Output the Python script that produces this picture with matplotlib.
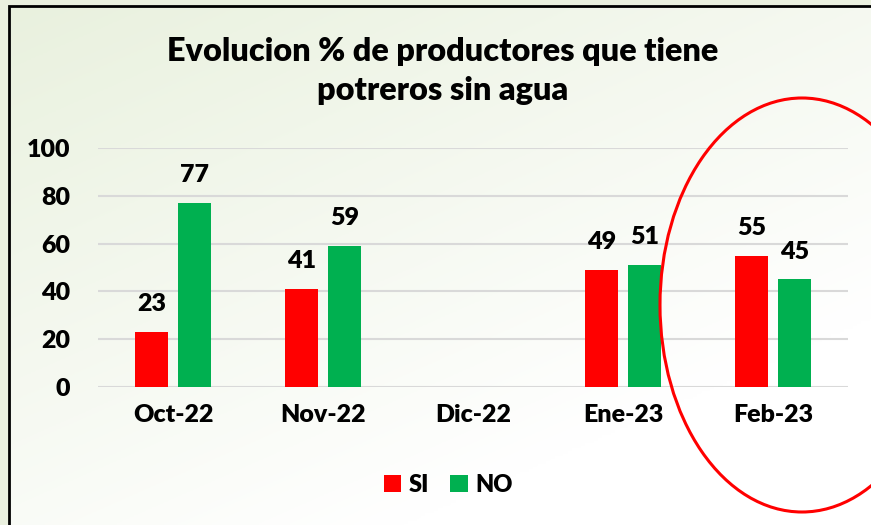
import matplotlib.pyplot as plt
import numpy as np
from matplotlib.patches import Ellipse, Rectangle

categories = ['Oct-22', 'Nov-22', 'Dic-22', 'Ene-23', 'Feb-23']
si = [23, 41, np.nan, 49, 55]
no = [77, 59, np.nan, 51, 45]
yticks = [0, 20, 40, 60, 80, 100]

plt.rcParams['font.family'] = ['Lato', 'DejaVu Sans']
plt.rcParams['font.weight'] = 'heavy'

W, H = 871, 525
fig = plt.figure(figsize=(W / 100, H / 100), dpi=100, facecolor='#eaf0df')

# background gradient inside the chart border (green top-left -> white bottom-right)
bg = fig.add_axes([0, 0, 1, 1], zorder=-10)
gx, gy = np.meshgrid(np.linspace(0, 1, 200), np.linspace(0, 1, 200))
t = np.clip(0.55 * gx + 0.75 * gy, 0, 1)
c0 = np.array([0.914, 0.945, 0.871])
c1 = np.array([1.0, 1.0, 1.0])
img = c0[None, None, :] * (1 - t[..., None]) + c1[None, None, :] * t[..., None]
bg.imshow(img, extent=[9 / W, 1, 0, 1 - 6 / H], origin='upper', aspect='auto')
bg.set_xlim(0, 1)
bg.set_ylim(0, 1)
bg.axis('off')
bg.add_patch(Rectangle((9 / W, -0.05), 1.1, 1 - 6 / H + 0.05, fill=False,
                       edgecolor='black', linewidth=2))

ax = fig.add_axes([98 / W, 1 - 387 / H, 750 / W, (387 - 148) / H])
ax.patch.set_alpha(0)

x = np.arange(len(categories))
w = 0.22
b1 = ax.bar(x - 0.143, si, w, color='#ff0000', label='SI', zorder=3)
b2 = ax.bar(x + 0.143, no, w, color='#00b050', label='NO', zorder=3)
ax.bar_label(b1, labels=['' if np.isnan(v) else f'{v:.0f}' for v in si],
             padding=12, fontsize=18, fontweight='heavy')
ax.bar_label(b2, labels=['' if np.isnan(v) else f'{v:.0f}' for v in no],
             padding=12, fontsize=18, fontweight='heavy')

ax.set_xlim(-0.5, len(categories) - 0.5)
ax.set_ylim(0, 100)
ax.set_yticks(yticks)
ax.set_xticks(x)
ax.set_xticklabels(categories)
ax.tick_params(axis='both', length=0, labelsize=18)
ax.tick_params(axis='y', pad=20)
ax.tick_params(axis='x', pad=12)
ax.grid(axis='y', color='#d9d9d9', linewidth=1.5, zorder=0)
for s in ax.spines.values():
    s.set_visible(False)

fig.text(443 / W, 1 - 71 / H, 'Evolucion % de productores que tiene\npotreros sin agua',
         ha='center', va='center', fontsize=23.3, fontweight='heavy', linespacing=1.42)

fig.legend(handles=[b1, b2], loc='center', bbox_to_anchor=(448 / W, 1 - 485 / H),
           ncol=2, frameon=False, prop={'weight': 'heavy', 'size': 17},
           handlelength=0.75, handleheight=0.75, handletextpad=0.3, columnspacing=0.9)

# red ellipse around Feb-23
fig.add_artist(Ellipse((802 / W, 1 - 305 / H), 284 / W, 414 / H, transform=fig.transFigure,
                       fill=False, edgecolor='#ff0000', linewidth=2.2))

fig.savefig('out.png', dpi=100, facecolor=fig.get_facecolor())
